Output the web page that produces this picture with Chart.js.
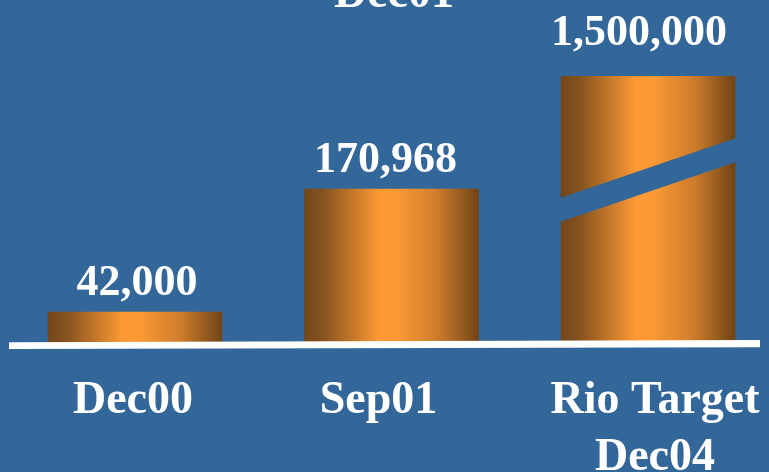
<!DOCTYPE html>
<html lang="en">
<head>
    <meta charset="UTF-8">
    <title>Members</title>
    <script src="https://cdn.jsdelivr.net/npm/chart.js"></script>
    <style>
        body { margin: 0; background: #336699; }
        canvas { display: block; }
    </style>
</head>
<body>
<canvas id="chart" width="769" height="472"></canvas>

<script>
    // chart data
    const heading = 'Dec01';
    const categories = [['Dec00'], ['Sep01'], ['Rio Target', 'Dec04']];
    const members = [42000, 170968, 1500000];

    const BG = '#336699';
    const BAR_W = 174;
    const FONT = 'bold 46px "Liberation Serif", "Times New Roman", serif';
    const VALUE_FONT = 'bold 44px "Liberation Serif", "Times New Roman", serif';
    // small horizontal nudges for the text, the slide wasn't laid out evenly
    const labelNudge = [-2, -13, 7];
    const valueNudge = [2, -6, -9];

    // copper cylinder look: dark edges, bright middle
    function barGradient(c) {
        const chart = c.chart;
        const xs = chart.scales && chart.scales.x;
        if (!xs || c.dataIndex === undefined) return '#fd9933';
        const cx = xs.getPixelForValue(c.dataIndex);
        if (!Number.isFinite(cx)) return '#fd9933';
        const g = chart.ctx.createLinearGradient(cx - BAR_W / 2, 0, cx + BAR_W / 2, 0);
        g.addColorStop(0, '#72461a');
        g.addColorStop(0.12, '#8a5520');
        g.addColorStop(0.43, '#fd9933');
        g.addColorStop(0.53, '#fb9934');
        g.addColorStop(0.76, '#cf7d2c');
        g.addColorStop(1, '#704416');
        return g;
    }

    const decorations = {
        id: 'decorations',
        beforeDraw(chart) {
            const ctx = chart.ctx;
            ctx.save();
            ctx.fillStyle = BG;
            ctx.fillRect(0, 0, chart.width, chart.height);
            ctx.restore();
        },
        afterDatasetsDraw(chart) {
            const ctx = chart.ctx;
            const area = chart.chartArea;
            const meta = chart.getDatasetMeta(0);
            const yScale = chart.scales.y;
            ctx.save();

            meta.data.forEach((bar, i) => {
                const left = bar.x - BAR_W / 2;
                const right = bar.x + BAR_W / 2;
                const clipped = members[i] > yScale.max;

                // broken bar for values past the top of the scale
                if (clipped) {
                    ctx.fillStyle = BG;
                    ctx.beginPath();
                    ctx.moveTo(left - 1, area.top + 122);
                    ctx.lineTo(right + 1, area.top + 62);
                    ctx.lineTo(right + 1, area.top + 86);
                    ctx.lineTo(left - 1, area.top + 146);
                    ctx.closePath();
                    ctx.fill();
                }

                // value above each bar
                const top = Math.max(bar.y, area.top);
                ctx.fillStyle = '#ffffff';
                ctx.font = VALUE_FONT;
                ctx.textAlign = 'center';
                ctx.textBaseline = 'alphabetic';
                ctx.fillText(members[i].toLocaleString('en-US'), bar.x + valueNudge[i], top - (clipped ? 31 : 17));

                // category labels under the axis line
                ctx.font = FONT;
                categories[i].forEach((line, k) => {
                    ctx.fillText(line, bar.x + labelNudge[i], 413 + k * 57);
                });
            });

            // white axis line, slightly tilted
            ctx.fillStyle = '#ffffff';
            ctx.beginPath();
            ctx.moveTo(9, 342.3);
            ctx.lineTo(760, 340);
            ctx.lineTo(760, 347.3);
            ctx.lineTo(9, 349);
            ctx.closePath();
            ctx.fill();

            // heading, mostly above the top edge
            ctx.font = FONT;
            ctx.textAlign = 'center';
            ctx.fillText(heading, 394, 7);
            ctx.restore();
        }
    };

    new Chart(document.getElementById('chart'), {
        type: 'bar',
        data: {
            labels: categories,
            datasets: [{
                data: members,
                backgroundColor: barGradient,
                borderWidth: 0,
                barThickness: BAR_W,
                clip: { left: 100, right: 100, top: 0, bottom: 0 }
            }]
        },
        options: {
            responsive: false,
            animation: false,
            events: [],
            layout: { padding: { left: 135, right: 121, top: 76, bottom: 127 } },
            plugins: {
                legend: { display: false },
                tooltip: { enabled: false },
                title: { display: false }
            },
            scales: {
                x: { display: false, offset: false },
                y: { display: false, min: 7400, max: 289500 }
            }
        },
        plugins: [decorations]
    });
</script>
</body>
</html>
